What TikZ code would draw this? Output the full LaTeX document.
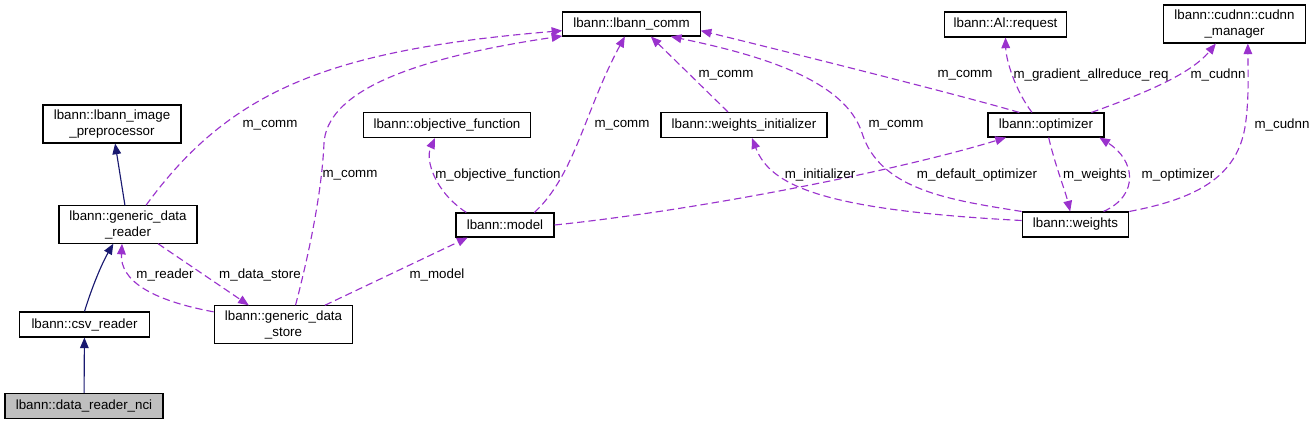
\documentclass[tikz,border=0pt]{standalone}
\usepackage{fontspec}
\setmainfont{Liberation Sans}
\usetikzlibrary{arrows.meta}
\definecolor{dxpurple}{RGB}{154,50,205}
\definecolor{dxblue}{RGB}{25,25,112}
\definecolor{dxgray}{RGB}{191,191,191}
\tikzset{
  cls/.style={draw=black, line width=0.8pt, fill=white, inner sep=0pt, align=center, font=\fontsize{10}{12}\selectfont},
  lbl/.style={inner sep=0pt, font=\fontsize{10}{12}\selectfont},
  usage/.style={draw=dxpurple, line width=0.85pt, dash pattern=on 5.5pt off 3pt, -{Triangle[length=8pt,width=6.5pt,fill=dxpurple]}},
  inherit/.style={draw=dxblue, line width=0.85pt, -{Triangle[length=8pt,width=6.5pt,fill=dxblue]}}
}

\begin{document}
\begin{tikzpicture}[x=0.75pt, y=-0.75pt]
  \useasboundingbox (0,0) rectangle (1312,424);

  %% Classes
  \node[cls, minimum width=103pt, minimum height=18pt] (comm) at (631.5,24) {lbann::lbann\_comm};
  \node[cls, minimum width=91pt, minimum height=18.75pt] (aireq) at (1005.5,24.5) {lbann::Al::request};
  \node[cls, minimum width=106pt, minimum height=28.5pt] (cudnn) at (1234.5,24) {lbann::cudnn::cudnn\\\_manager};
  \node[cls, minimum width=103.5pt, minimum height=28.5pt] (imgpre) at (112,124) {lbann::lbann\_image\\\_preprocessor};
  \node[cls, minimum width=125pt, minimum height=18.75pt] (objfn) at (447,125) {lbann::objective\_function};
  \node[cls, minimum width=124.5pt, minimum height=18.75pt] (winit) at (744,125) {lbann::weights\_initializer};
  \node[cls, minimum width=87pt, minimum height=18pt] (opt) at (1046,125) {lbann::optimizer};
  \node[cls, minimum width=103.5pt, minimum height=28pt] (reader) at (128,224.5) {lbann::generic\_data\\\_reader};
  \node[cls, minimum width=73.5pt, minimum height=18pt] (model) at (505,225) {lbann::model};
  \node[cls, minimum width=80pt, minimum height=18.75pt] (weights) at (1075.5,224.5) {lbann::weights};
  \node[cls, minimum width=97pt, minimum height=18.75pt] (csv) at (84.5,324.5) {lbann::csv\_reader};
  \node[cls, minimum width=104pt, minimum height=28pt] (store) at (283.5,324.5) {lbann::generic\_data\\\_store};
  \node[cls, fill=dxgray, minimum width=118.5pt, minimum height=18.75pt] (nci) at (84,406) {lbann::data\_reader\_nci};

  %% Inheritance
  \draw[inherit] (reader) -- (imgpre);
  \draw[inherit] (csv.north) .. controls (91,290) and (101,265) .. ([xshift=-11pt]reader.south);
  \draw[inherit] (nci) -- (csv);

  %% Members
  \draw[usage] ([xshift=13.5pt]reader.north) .. controls (230,90) and (330,50) .. ([yshift=-5pt]comm.west);
  \draw[usage] ([xshift=9pt]store.north) .. controls (310,250) and (322,190) .. (324,143) .. controls (327,95) and (400,60) .. ([yshift=-9pt]comm.west);
  \draw[usage] ([xshift=22pt]model.north) .. controls (575,175) and (585,110) .. ([xshift=-5pt]comm.south);
  \draw[usage] ([xshift=-29pt]model.north) .. controls (435,192) and (425,160) .. ([xshift=-9pt]objfn.south);
  \draw[usage] ([xshift=-12pt]winit.north) -- ([xshift=14.5pt]comm.south);
  \draw[usage] (weights.north west) .. controls (950,200) and (880,190) .. (862,133) .. controls (845,80) and (760,55) .. ([xshift=29.5pt]comm.south);
  \draw[usage] ([xshift=-20pt]opt.north) .. controls (960,95) and (780,50) .. ([yshift=-5pt]comm.east);
  \draw[usage] ([xshift=-10.5pt]opt.north) .. controls (1015,90) and (1006,60) .. (aireq.south);
  \draw[usage] ([xshift=34pt]opt.north) .. controls (1140,95) and (1190,75) .. ([xshift=-14pt]cudnn.south);
  \draw[usage] (weights.north east) .. controls (1200,198) and (1240,175) .. (1246,120) .. controls (1249,95) and (1248,70) .. ([xshift=10pt]cudnn.south);
  \draw[usage] ([xshift=2pt]opt.south) .. controls (1055,165) and (1065,190) .. ([xshift=-4pt]weights.north);
  \draw[usage] ([xshift=21pt]weights.north) .. controls (1140,195) and (1135,160) .. ([xshift=40pt]opt.south);
  \draw[usage] ([yshift=3pt]weights.west) .. controls (820,210) and (770,185) .. ([xshift=6pt]winit.south);
  \draw[usage] (model.east) .. controls (700,210) and (900,170) .. ([xshift=-30pt]opt.south);
  \draw[usage] ([xshift=22.5pt]reader.south) -- ([xshift=-26pt]store.north);
  \draw[usage] ([yshift=9.5pt]store.west) .. controls (150,300) and (120,280) .. ([xshift=-4.5pt]reader.south);
  \draw[usage] ([xshift=31pt]store.north) -- ([xshift=-28pt]model.south);

  %% Member names
  \node[lbl] (l1) at (270,125) {m\_comm};
  \node[lbl] (l2) at (350,175) {m\_comm};
  \node[lbl] (l3) at (622,125) {m\_comm};
  \node[lbl] (l4) at (498,175) {m\_objective\_function};
  \node[lbl] (l5) at (726,75) {m\_comm};
  \node[lbl] (l6) at (896,125) {m\_comm};
  \node[lbl] (l7) at (965,75) {m\_comm};
  \node[lbl] (l8) at (1091,75) {m\_gradient\_allreduce\_req};
  \node[lbl] (l9) at (1218,75) {m\_cudnn};
  \node[lbl] (l10) at (1282,125) {m\_cudnn};
  \node[lbl] (l11) at (1095,175) {m\_weights};
  \node[lbl] (l12) at (1178,175) {m\_optimizer};
  \node[lbl] (l13) at (820,175) {m\_initializer};
  \node[lbl] (l14) at (977,175) {m\_default\_optimizer};
  \node[lbl] (l15) at (260,275) {m\_data\_store};
  \node[lbl] (l16) at (165,275) {m\_reader};
  \node[lbl] (l17) at (437,275) {m\_model};
\end{tikzpicture}
\end{document}
